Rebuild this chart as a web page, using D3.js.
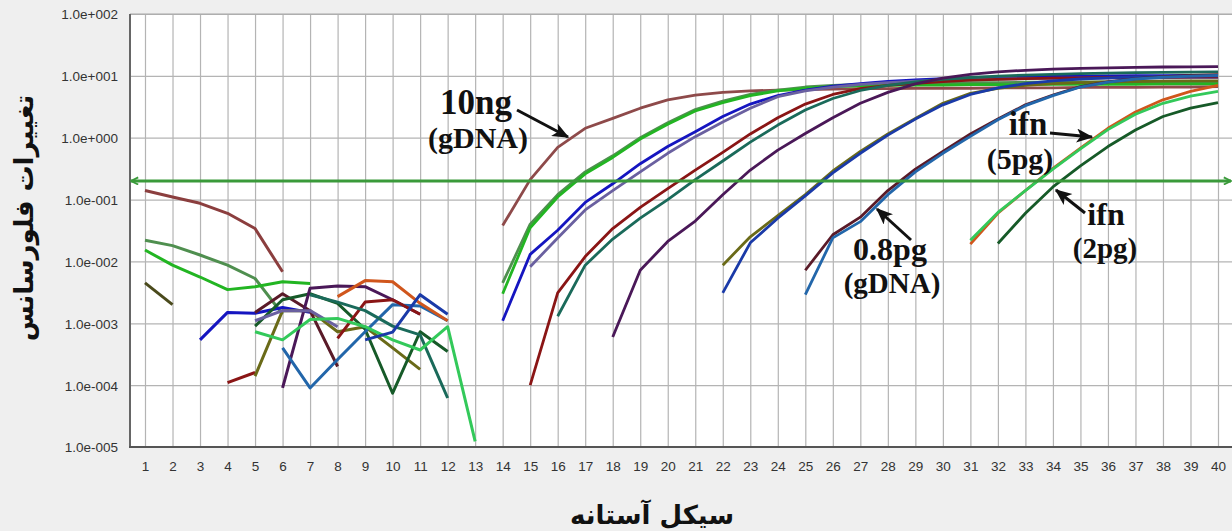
<!DOCTYPE html>
<html>
<head>
<meta charset="utf-8">
<script src="https://cdn.jsdelivr.net/npm/d3@7"></script>
<style>
  body { margin: 0; background: #efefef; }
  svg { display: block; }
</style>
</head>
<body>
<div id="chart"></div>
<script>
// cycles and axis ticks
var cycles = d3.range(1, 41);
var yTicks = [1e-5, 1e-4, 1e-3, 1e-2, 1e-1, 1e0, 1e1, 1e2];
var yTickLabels = ["1.0e-005", "1.0e-004", "1.0e-003", "1.0e-002", "1.0e-001", "1.0e+000", "1.0e+001", "1.0e+002"];
var threshold = 0.2;

// amplification curves: colour, first cycle, values from that cycle on
var ampColors = ["#8e4a4a", "#4f8f4f", "#22b522", "#1515c0", "#6a60a0", "#8a1515", "#1a6a5a", "#4a1858",
                 "#6a6a18", "#1a3aa8", "#5a1a28", "#2266aa", "#d0561c", "#33c95a", "#165a28"];
var ampStart = [14, 14, 14, 14, 15, 15, 16, 18, 22, 22, 25, 25, 31, 31, 32];
var ampValues = [
  [0.038, 0.21, 0.70, 1.42, 2.05, 3.0, 4.1, 4.9, 5.4, 5.7, 5.9, 6.0, 6.1, 6.2, 6.2, 6.3, 6.3, 6.3, 6.4, 6.4, 6.4, 6.5, 6.5, 6.5, 6.6, 6.6, 6.7],
  [0.0045, 0.04, 0.12, 0.28, 0.51, 1.0, 1.75, 2.85, 3.9, 5.0, 5.9, 6.6, 7.0, 7.3, 7.5, 7.6, 7.7, 7.8, 7.8, 7.9, 7.9, 8.0, 8.0, 8.0, 8.1, 8.1, 8.1],
  [0.003, 0.035, 0.11, 0.26, 0.48, 0.95, 1.65, 2.7, 3.7, 4.8, 5.7, 6.3, 6.7, 6.9, 7.0, 7.1, 7.1, 7.2, 7.2, 7.2, 7.3, 7.3, 7.3, 7.3, 7.4, 7.4, 7.4],
  [0.0011, 0.013, 0.032, 0.09, 0.18, 0.38, 0.72, 1.25, 2.2, 3.5, 4.8, 5.9, 6.8, 7.5, 8.1, 8.6, 9.0, 9.3, 9.5, 9.7, 9.8, 9.9, 10.0, 10.1, 10.1, 10.2, 10.2],
  [0.0082, 0.024, 0.068, 0.14, 0.28, 0.56, 1.04, 1.8, 3.0, 4.6, 5.7, 6.6, 7.3, 7.8, 8.2, 8.5, 8.7, 8.9, 9.0, 9.1, 9.2, 9.2, 9.3, 9.3, 9.4, 9.4],
  [0.0001, 0.0031, 0.012, 0.034, 0.075, 0.15, 0.3, 0.58, 1.15, 2.1, 3.5, 5.0, 6.2, 7.0, 7.6, 8.1, 8.5, 8.8, 9.0, 9.2, 9.3, 9.4, 9.5, 9.5, 9.6, 9.6],
  [0.0013, 0.0087, 0.023, 0.05, 0.1, 0.21, 0.42, 0.85, 1.6, 2.8, 4.3, 5.8, 7.0, 8.0, 8.8, 9.4, 9.9, 10.3, 10.6, 10.9, 11.1, 11.3, 11.4, 11.5, 11.6],
  [0.0006, 0.0072, 0.021, 0.045, 0.12, 0.3, 0.63, 1.17, 2.1, 3.6, 5.4, 7.4, 9.2, 10.6, 11.6, 12.3, 12.8, 13.2, 13.5, 13.7, 13.9, 14.0, 14.1],
  [0.0087, 0.025, 0.055, 0.12, 0.29, 0.6, 1.15, 2.05, 3.6, 5.2, 6.3, 7.0, 7.5, 7.8, 8.0, 8.1, 8.2, 8.3, 8.3],
  [0.0031, 0.02, 0.05, 0.115, 0.27, 0.56, 1.1, 2.0, 3.4, 5.0, 6.4, 7.5, 8.3, 8.9, 9.3, 9.6, 9.8, 9.9, 10.0],
  [0.0072, 0.027, 0.052, 0.14, 0.31, 0.6, 1.15, 2.0, 3.4, 4.9, 6.7, 8.0, 9.0, 9.7, 10.2, 10.5],
  [0.0029, 0.024, 0.044, 0.12, 0.28, 0.56, 1.05, 1.95, 3.3, 4.8, 6.6, 7.9, 8.9, 9.5, 9.9, 10.2],
  [0.019, 0.06, 0.14, 0.32, 0.68, 1.42, 2.6, 4.1, 5.6, 7.0],
  [0.022, 0.062, 0.14, 0.31, 0.66, 1.35, 2.4, 3.6, 4.7, 5.6],
  [0.0195, 0.06, 0.16, 0.35, 0.72, 1.33, 2.2, 3.0, 3.7]
];

// baseline (early cycle) pieces of the same wells
var noiseColors = ["#8b3e3e", "#4f8f4f", "#22b522", "#4a4a1c", "#1515c0", "#8a1515", "#6a6a18", "#5a1a28",
                   "#165a28", "#4a1858", "#2266aa", "#6a60a0", "#d0561c", "#8a1515", "#1a6a5a", "#33c95a", "#1a3aa8"];
var noiseStart = [1, 1, 1, 1, 3, 4, 5, 5, 5, 6, 6, 5, 8, 8, 7, 5, 9];
var noiseValues = [
  [0.14, 0.11, 0.087, 0.06, 0.034, 0.0068],
  [0.022, 0.018, 0.0127, 0.0087, 0.0053, 0.0014],
  [0.0153, 0.0087, 0.0056, 0.0035, 0.0039, 0.0047, 0.0044],
  [0.0045, 0.002],
  [0.00054, 0.0015, 0.00145, 0.0018, 0.0015],
  [0.00011, 0.00016],
  [0.00014, 0.0016, 0.0016, 0.00073, 0.00088, 0.0004, 0.00018],
  [0.0015, 0.003, 0.0016, 0.0002],
  [0.0009, 0.0024, 0.003, 0.0021, 0.0008, 0.000074, 0.00073, 0.00035],
  [0.00009, 0.0037, 0.004, 0.0039, 0.0024, 0.0014],
  [0.0004, 0.00009, 0.00026, 0.00073, 0.002, 0.0019, 0.0011],
  [0.0011, 0.0016, 0.0016, 0.00088],
  [0.0027, 0.0049, 0.0047, 0.0021, 0.0011],
  [0.00057, 0.0022, 0.0024, 0.0014],
  [0.0029, 0.0022, 0.0016, 0.0009, 0.00065, 0.000062],
  [0.00073, 0.00054, 0.00115, 0.0012, 0.00088, 0.00054, 0.00037, 0.00088, 0.0000123],
  [0.00054, 0.00072, 0.0029, 0.0014]
];

var width = 1232, height = 531;
var plotLeft = 130, plotTop = 14, plotBottom = 447, plotRight = 1240;

var svg = d3.select("#chart").append("svg").attr("width", width).attr("height", height);
svg.append("rect").attr("width", width).attr("height", height).attr("fill", "#efefef");

var x = d3.scaleLinear().domain([1, 40]).range([145, 1218]);
var y = d3.scaleLog().domain([1e-5, 1e2]).range([plotBottom, plotTop]);

svg.append("rect").attr("x", plotLeft).attr("y", plotTop)
    .attr("width", plotRight - plotLeft).attr("height", plotBottom - plotTop).attr("fill", "white");

// grid + tick labels through the axes
var xAxis = svg.append("g").attr("transform", "translate(0," + plotBottom + ")")
    .call(d3.axisBottom(x).tickValues(cycles).tickSize(-(plotBottom - plotTop)).tickPadding(14));
var yAxis = svg.append("g").attr("transform", "translate(" + plotLeft + ",0)")
    .call(d3.axisLeft(y).tickValues(yTicks).tickSize(-(plotRight - plotLeft)).tickPadding(12)
        .tickFormat(function(d, i) { return yTickLabels[i]; }));

[xAxis, yAxis].forEach(function(g) {
    g.select(".domain").remove();
    g.selectAll(".tick line").attr("stroke", "#b4b4b4").attr("stroke-width", 1.2);
    g.selectAll(".tick text").attr("fill", "#333")
        .style("font-family", "'Liberation Sans', Arial, sans-serif").style("font-size", "13.5px");
});
yAxis.selectAll(".tick text").attr("dy", "0.36em");

// frame
svg.append("line").attr("x1", plotLeft).attr("x2", plotRight).attr("y1", plotTop).attr("y2", plotTop)
    .attr("stroke", "#a8a8a8").attr("stroke-width", 1.2);
svg.append("line").attr("x1", plotLeft).attr("x2", plotLeft).attr("y1", plotTop).attr("y2", plotBottom + 1)
    .attr("stroke", "#666").attr("stroke-width", 2);
svg.append("line").attr("x1", plotLeft - 1).attr("x2", plotRight).attr("y1", plotBottom).attr("y2", plotBottom)
    .attr("stroke", "#555").attr("stroke-width", 2);

var line = d3.line()
    .x(function(d) { return x(d[0]); })
    .y(function(d) { return y(d[1]); });

function drawSeries(colors, starts, values, w) {
    values.forEach(function(vals, i) {
        var pts = vals.map(function(v, k) { return [starts[i] + k, v]; });
        svg.append("path").datum(pts)
            .attr("d", line)
            .attr("fill", "none")
            .attr("stroke", colors[i])
            .attr("stroke-width", w)
            .attr("stroke-linejoin", "round");
    });
}
drawSeries(noiseColors, noiseStart, noiseValues, 3);
drawSeries(ampColors, ampStart, ampValues, 2.8);

// markers
var defs = svg.append("defs");
defs.append("marker").attr("id", "ghead").attr("viewBox", "0 0 10 10")
    .attr("refX", 9).attr("refY", 5).attr("markerWidth", 9).attr("markerHeight", 9)
    .attr("markerUnits", "userSpaceOnUse").attr("orient", "auto-start-reverse")
    .append("path").attr("d", "M1,1 L9,5 L1,9").attr("fill", "none")
    .attr("stroke", "#3a9a3a").attr("stroke-width", 2);
defs.append("marker").attr("id", "bhead").attr("viewBox", "0 0 12 10")
    .attr("refX", 11).attr("refY", 5).attr("markerWidth", 18).attr("markerHeight", 14)
    .attr("markerUnits", "userSpaceOnUse").attr("orient", "auto")
    .append("path").attr("d", "M0,0 L12,5 L0,10 L3,5 Z").attr("fill", "#111");

// threshold
svg.append("line")
    .attr("x1", plotLeft + 1).attr("x2", 1231)
    .attr("y1", y(threshold)).attr("y2", y(threshold))
    .attr("stroke", "#3a9a3a").attr("stroke-width", 3)
    .attr("marker-start", "url(#ghead)").attr("marker-end", "url(#ghead)");

// annotations
var serif = "'Liberation Serif', 'Times New Roman', serif";
var notes = [
    ["10ng", 476, 114, 35], ["(gDNA)", 478, 148, 30],
    ["0.8pg", 890, 260, 32], ["(gDNA)", 892, 293, 29],
    ["ifn", 1028, 135, 33], ["(5pg)", 1020, 169, 30],
    ["ifn", 1106, 225, 32], ["(2pg)", 1105, 258, 29]
];
notes.forEach(function(n) {
    svg.append("text").attr("x", n[1]).attr("y", n[2])
        .attr("text-anchor", "middle")
        .style("font-family", serif).style("font-weight", "bold")
        .style("font-size", n[3] + "px").attr("fill", "#111")
        .text(n[0]);
});
var arrows = [[517, 110, 568, 137], [911, 240, 877, 209], [1050, 133, 1092, 137], [1085, 213, 1056, 190]];
arrows.forEach(function(a) {
    svg.append("line").attr("x1", a[0]).attr("y1", a[1]).attr("x2", a[2]).attr("y2", a[3])
        .attr("stroke", "#111").attr("stroke-width", 3)
        .attr("marker-end", "url(#bhead)");
});

// axis titles
svg.append("text")
    .attr("transform", "translate(33,218) rotate(-90)")
    .attr("text-anchor", "middle")
    .style("font-family", "'DejaVu Sans', sans-serif").style("font-weight", "bold")
    .style("font-size", "26px").attr("fill", "#111")
    .text("تغییرات فلورسانس");
svg.append("text")
    .attr("x", 652).attr("y", 524)
    .attr("text-anchor", "middle")
    .style("font-family", "'DejaVu Sans', sans-serif").style("font-weight", "bold")
    .style("font-size", "26px").attr("fill", "#111")
    .text("سیکل آستانه");
</script>
</body>
</html>
